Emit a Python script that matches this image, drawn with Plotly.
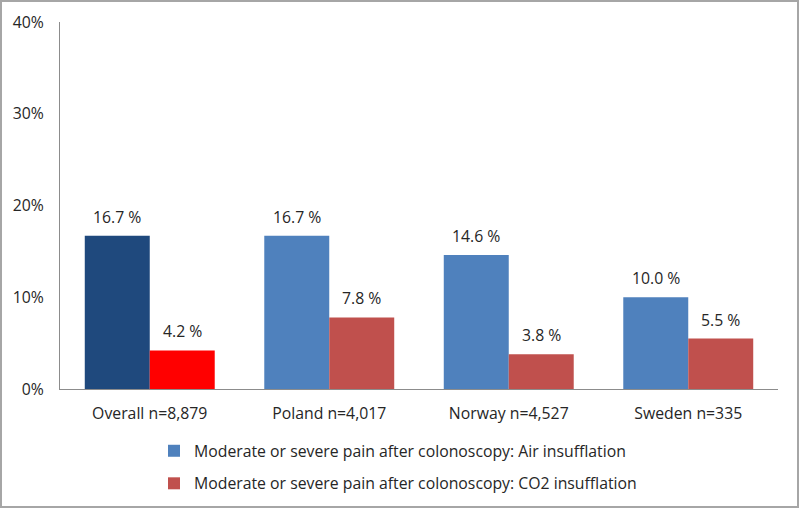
import plotly.graph_objects as go

# data
categories = ['Overall n=8,879', 'Poland n=4,017', 'Norway n=4,527', 'Sweden n=335']
air = [16.7, 16.7, 14.6, 10.0]
co2 = [4.2, 7.8, 3.8, 5.5]
y_ticks = [0, 10, 20, 30, 40]

air_name = 'Moderate or severe pain after colonoscopy: Air insufflation'
co2_name = 'Moderate or severe pain after colonoscopy: CO2 insufflation'

font = 'Open Sans, Liberation Sans, sans-serif'
txt_col = '#262626'
fs = 15.8

W, H = 800, 509
l, r, t, b = 60, 22, 22, 120
pw = W - l - r
ph = H - t - b
bargap = 0.276
bar_px = pw / len(categories) * (1 - bargap) / 2

fig = go.Figure()

# country bars (shown in legend)
fig.add_trace(go.Bar(
    x=categories[1:], y=air[1:], name=air_name,
    marker_color='#4F81BD', offsetgroup='air', legendgroup='air',
))
fig.add_trace(go.Bar(
    x=categories[1:], y=co2[1:], name=co2_name,
    marker_color='#C0504D', offsetgroup='co2', legendgroup='co2',
))

# overall bars, highlighted colours
fig.add_trace(go.Bar(
    x=categories[:1], y=air[:1], name=air_name, showlegend=False,
    marker_color='#1F497D', offsetgroup='air', legendgroup='air',
))
fig.add_trace(go.Bar(
    x=categories[:1], y=co2[:1], name=co2_name, showlegend=False,
    marker_color='#FF0000', offsetgroup='co2', legendgroup='co2',
))

fig.update_traces(marker_line_width=0)

# value labels above bars
annotations = []
for series, shift in ((air, -bar_px / 2), (co2, bar_px / 2)):
    for cat, v in zip(categories, series):
        annotations.append(dict(
            x=cat, y=v, text=f'{v:.1f} %', showarrow=False,
            xshift=shift, yshift=19, yanchor='middle',
            font=dict(family=font, size=fs, color=txt_col),
        ))

fig.update_layout(
    width=W, height=H,
    margin=dict(l=l, r=r, t=t, b=b, autoexpand=False),
    paper_bgcolor='white', plot_bgcolor='white',
    barmode='group', bargap=bargap, bargroupgap=0,
    font=dict(family=font, size=fs, color=txt_col),
    showlegend=True,
    legend=dict(
        x=(154 - l) / pw, y=(H - b - 434) / ph,
        xanchor='left', yanchor='top',
        traceorder='grouped', tracegroupgap=9,
        font=dict(family=font, size=fs, color=txt_col),
        bgcolor='rgba(0,0,0,0)',
    ),
    xaxis=dict(
        categoryorder='array', categoryarray=categories,
        showline=True, linecolor='#8c8c8c', linewidth=1,
        ticks='', showgrid=False, ticklabelstandoff=10,
        tickfont=dict(family=font, size=fs, color=txt_col),
    ),
    yaxis=dict(
        range=[0, 40], tickvals=y_ticks,
        ticktext=[f'{v}%' for v in y_ticks],
        showline=True, linecolor='#8c8c8c', linewidth=1,
        ticks='', showgrid=False, zeroline=False, ticklabelstandoff=12,
        tickfont=dict(family=font, size=fs, color=txt_col),
    ),
    annotations=annotations,
    shapes=[dict(
        type='rect', xref='paper', yref='paper',
        x0=(1 - l) / pw, x1=(W - 2 - l) / pw,
        y0=(H - b - (H - 2)) / ph, y1=(H - b - 1) / ph,
        line=dict(color='#a6a6a6', width=2), fillcolor='rgba(0,0,0,0)',
        layer='below',
    )],
)

# page sits at the origin, no scrolling, no modebar
page_css = (
    "var s=document.createElement('style');"
    "s.textContent='html,body{margin:0;padding:0;overflow:hidden;height:509px;}';"
    "document.head.appendChild(s);"
)
fig.write_html('out.html', post_script=page_css, config={'displayModeBar': False})
